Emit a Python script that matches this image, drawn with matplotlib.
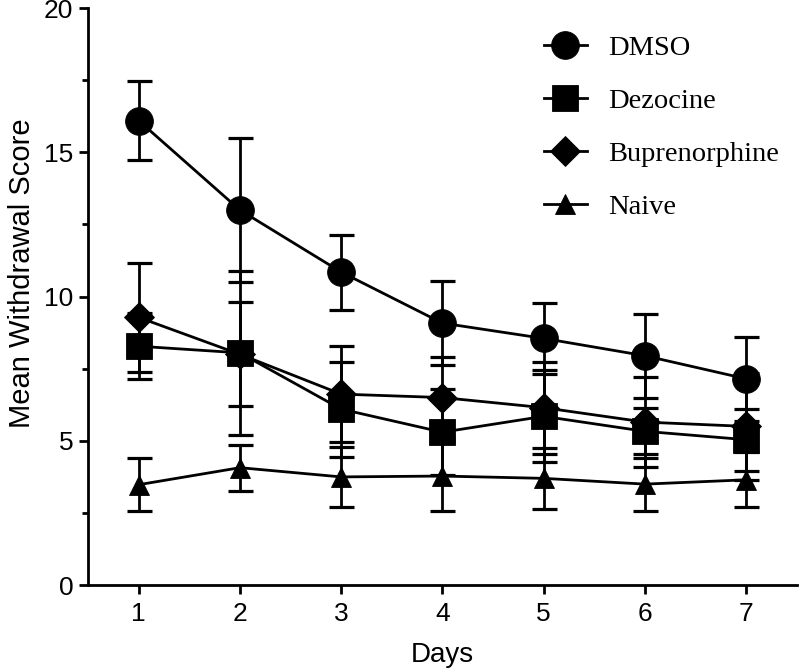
import matplotlib
matplotlib.use('Agg')
import matplotlib.pyplot as plt
from matplotlib.ticker import MultipleLocator
from matplotlib.lines import Line2D

days = [1, 2, 3, 4, 5, 6, 7]

dmso = [16.1, 13.0, 10.85, 9.08, 8.55, 7.95, 7.15]
dmso_err = [1.37, 2.48, 1.3, 1.46, 1.22, 1.46, 1.46]

dezocine = [8.28, 8.05, 6.1, 5.3, 5.85, 5.33, 5.04]
dezocine_err = [1.15, 2.85, 1.65, 1.5, 1.6, 0.8, 1.07]

bupren = [9.28, 8.0, 6.62, 6.5, 6.15, 5.65, 5.5]
bupren_err = [1.9, 1.8, 1.67, 1.4, 1.6, 1.55, 1.85]

naive = [3.48, 4.07, 3.75, 3.78, 3.7, 3.5, 3.65]
naive_err = [0.92, 0.8, 1.05, 1.2, 1.05, 0.92, 0.95]

labels = ['DMSO', 'Dezocine', 'Buprenorphine', 'Naive']

fig = plt.figure(figsize=(8, 6.71), dpi=100)
ax = fig.add_axes([0.11, 0.128, 0.886, 0.86])

lw = 2.0
series = [
    (naive, naive_err, '^', 14),
    (bupren, bupren_err, 'D', 15),
    (dezocine, dezocine_err, 's', 19),
    (dmso, dmso_err, 'o', 20),
]
for y, e, m, ms in series:
    cont = ax.errorbar(days, y, yerr=e, color='black', marker=m, markersize=ms,
                       linewidth=lw, elinewidth=lw, capsize=9, capthick=2.3)
    cont[0].set_markeredgewidth(0.6)

ax.set_xlim(0.5, 7.5)
ax.set_ylim(0, 20)
ax.set_xticks(days)
ax.yaxis.set_major_locator(MultipleLocator(5))
ax.yaxis.set_minor_locator(MultipleLocator(2.5))

for s in ['top', 'right']:
    ax.spines[s].set_visible(False)
for s in ['left', 'bottom']:
    ax.spines[s].set_linewidth(2.0)

ax.tick_params(axis='both', which='major', length=6.5, width=2.0,
               labelsize=19, pad=4)
ax.tick_params(axis='x', which='major', pad=6)
ax.tick_params(axis='y', which='minor', length=4, width=2.0)
for t in ax.get_xticklabels() + ax.get_yticklabels():
    t.set_fontfamily('Liberation Sans')

ax.set_xlabel('Days', fontsize=20, fontfamily='Liberation Sans', labelpad=11)
ax.set_ylabel('Mean Withdrawal Score', fontsize=21,
              fontfamily='Liberation Sans')
ax.yaxis.set_label_coords(-0.074, 0.54)

handles = []
for m, ms in [('o', 20), ('s', 19), ('D', 15), ('^', 14)]:
    handles.append(Line2D([], [], color='black', marker=m, markersize=ms,
                          markeredgecolor='black', markeredgewidth=0.6,
                          linewidth=lw))
ax.legend(handles, labels, loc='upper left', bbox_to_anchor=(0.615, 0.988),
          frameon=False, prop={'family': 'Liberation Serif', 'size': 20.5},
          handlelength=1.5, handletextpad=0.75, labelspacing=0.95,
          borderaxespad=0.3)

fig.savefig('out.png', dpi=100)
